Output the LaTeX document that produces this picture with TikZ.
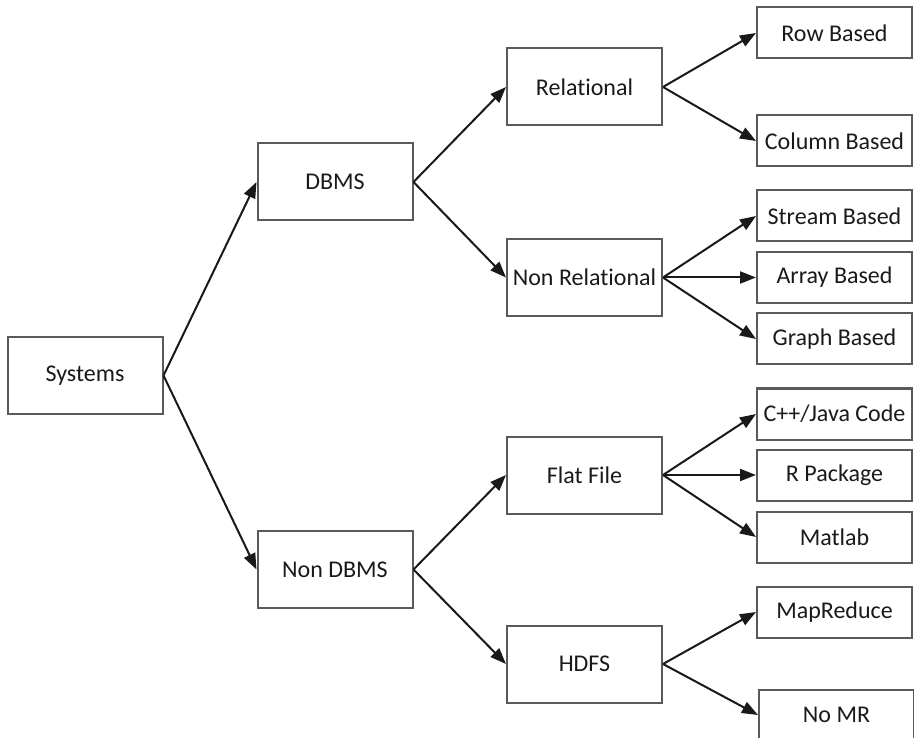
\documentclass[tikz,border=0pt]{standalone}
\usepackage{fontspec}
\setmainfont{Carlito}[Ligatures={NoCommon}]
\usetikzlibrary{arrows.meta}
\definecolor{boxgray}{HTML}{5A5A5A}
\definecolor{txt}{HTML}{1A1A1A}
\begin{document}
\begin{tikzpicture}[x=1pt,y=-1pt,
  bigbox/.style={draw=boxgray,line width=2pt,fill=white,minimum width=155pt,minimum height=77pt,inner sep=0pt,font=\fontsize{24}{28}\selectfont,text=txt},
  leafbox/.style={draw=boxgray,line width=2pt,fill=white,minimum width=155pt,minimum height=51pt,inner sep=0pt,font=\fontsize{24}{28}\selectfont,text=txt},
  conn/.style={draw=black!90,line width=2pt,-{Triangle[length=16pt,width=12pt]}}]
\clip (0,0) rectangle (914,738);
\fill[white] (0,0) rectangle (914,738);
\node[bigbox] (sys) at (85,375.5) {Systems};
\node[bigbox] (dbms) at (335,182) {DBMS};
\node[bigbox] (ndbms) at (335,569.5) {Non DBMS};
\node[bigbox] (rel) at (584.5,87) {Relational};
\node[bigbox] (nrel) at (584.5,277.5) {Non Relational};
\node[bigbox] (flat) at (584.5,475) {Flat File};
\node[bigbox] (hdfs) at (584.5,664) {HDFS};
\node[leafbox] (row) at (834.5,33) {Row Based};
\node[leafbox] (col) at (834.5,141) {Column Based};
\node[leafbox] (stream) at (834.5,216) {Stream Based};
\node[leafbox] (array) at (834.5,277.5) {Array Based};
\node[leafbox] (graph) at (834.5,339) {Graph Based};
\node[leafbox] (cpp) at (834.5,414) {C++/Java Code};
\node[leafbox] (rpkg) at (834.5,475) {R Package};
\node[leafbox] (matlab) at (834.5,537) {Matlab};
\node[leafbox] (mapred) at (834.5,612) {MapReduce};
\node[leafbox] (nomr) at (836.5,715) {No MR};
\draw[conn] (sys.east) -- (dbms.west);
\draw[conn] (sys.east) -- (ndbms.west);
\draw[conn] (dbms.east) -- (rel.west);
\draw[conn] (dbms.east) -- (nrel.west);
\draw[conn] (ndbms.east) -- (flat.west);
\draw[conn] (ndbms.east) -- (hdfs.west);
\draw[conn] (rel.east) -- (row.west);
\draw[conn] (rel.east) -- (col.west);
\draw[conn] (nrel.east) -- (stream.west);
\draw[conn] (nrel.east) -- (array.west);
\draw[conn] (nrel.east) -- (graph.west);
\draw[conn] (flat.east) -- (cpp.west);
\draw[conn] (flat.east) -- (rpkg.west);
\draw[conn] (flat.east) -- (matlab.west);
\draw[conn] (hdfs.east) -- (mapred.west);
\draw[conn] (hdfs.east) -- (nomr.west);
\end{tikzpicture}
\end{document}
